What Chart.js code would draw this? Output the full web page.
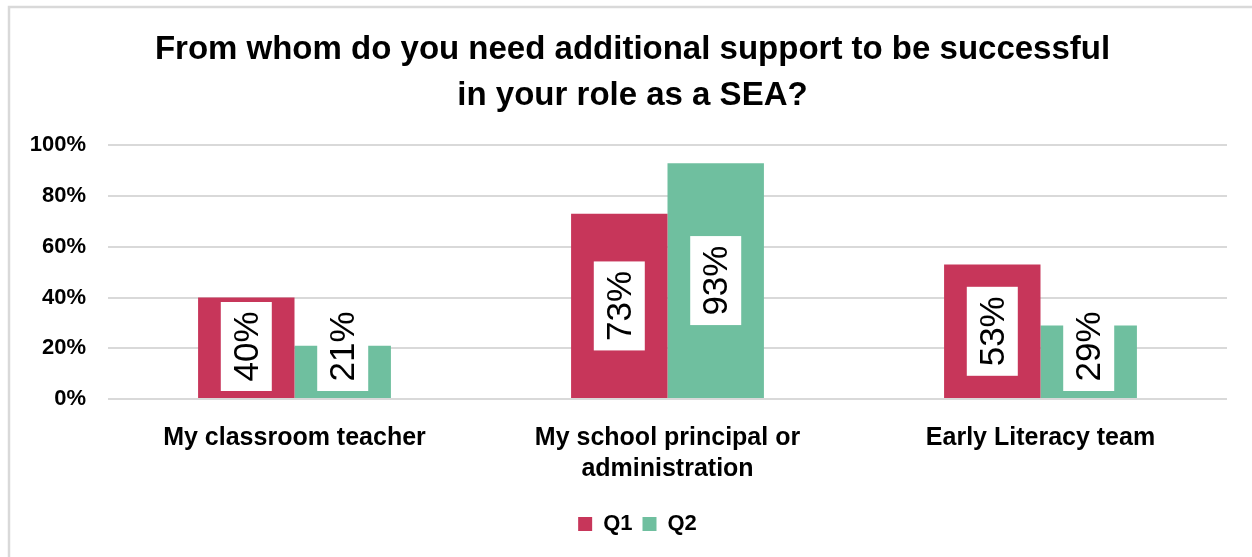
<!DOCTYPE html>
<html>
<head>
<meta charset="utf-8">
<script src="https://cdn.jsdelivr.net/npm/chart.js@4/dist/chart.umd.min.js"></script>
<style>
    html, body { margin: 0; padding: 0; background: #fff; overflow: hidden; }
    #supportChart { display: block; }
</style>
</head>
<body>
<canvas id="supportChart" width="1252" height="557"></canvas>
<script>
// chart data
const categories = [
    "My classroom teacher",
    ["My school principal or", "administration"],
    "Early Literacy team"
];
const q1Values = [40, 73, 53];
const q2Values = [21, 93, 29];
const yTicks = [0, 20, 40, 60, 80, 100];
const seriesNames = ["Q1", "Q2"];
const titleLines = ["From whom do you need additional support to be successful", "in your role as a SEA?"];

const q1Color = "#C7365A";
const q2Color = "#6FBF9F";
const gridColor = "#D9D9D9";
const fontFamily = "'Liberation Sans', Arial, sans-serif";

// white background + grey frame like the exported slide
const framePlugin = {
    id: "frame",
    beforeDraw(chart) {
        const ctx = chart.ctx;
        ctx.save();
        ctx.fillStyle = "#fff";
        ctx.fillRect(0, 0, chart.width, chart.height);
        ctx.strokeStyle = gridColor;
        ctx.lineWidth = 2.5;
        ctx.beginPath();
        ctx.moveTo(9, chart.height);
        ctx.lineTo(9, 7);
        ctx.lineTo(chart.width, 7);
        ctx.stroke();
        ctx.restore();
    }
};

// nudge title and legend a bit right, like the original
const shiftBoxes = {
    id: "shiftBoxes",
    afterLayout(chart) {
        if (chart.titleBlock) { chart.titleBlock.left += 19; chart.titleBlock.right += 19; }
        if (chart.legend) { chart.legend.left += 24; chart.legend.right += 24; }
    }
};

// rotated value labels in white boxes (kept above the axis line)
const valueLabels = {
    id: "valueLabels",
    afterDatasetsDraw(chart) {
        const ctx = chart.ctx;
        const boxW = 51, boxH = 89;
        ctx.save();
        ctx.font = "35px " + fontFamily;
        ctx.textAlign = "center";
        ctx.textBaseline = "middle";
        chart.data.datasets.forEach((ds, di) => {
            chart.getDatasetMeta(di).data.forEach((bar, i) => {
                let cy = (bar.y + bar.base) / 2;
                if (cy + boxH / 2 > bar.base - 7) cy = bar.base - 7 - boxH / 2;
                ctx.fillStyle = "#fff";
                ctx.fillRect(bar.x - boxW / 2, cy - boxH / 2, boxW, boxH);
                ctx.save();
                ctx.translate(bar.x, cy);
                ctx.rotate(-Math.PI / 2);
                ctx.fillStyle = "#000";
                ctx.fillText(ds.data[i] + "%", 0, 2);
                ctx.restore();
            });
        });
        ctx.restore();
    }
};

const chart = new Chart(document.getElementById("supportChart"), {
    type: "bar",
    data: {
        labels: categories,
        datasets: [{
            label: seriesNames[0],
            data: q1Values,
            backgroundColor: q1Color,
            borderWidth: 0
        }, {
            label: seriesNames[1],
            data: q2Values,
            backgroundColor: q2Color,
            borderWidth: 0
        }]
    },
    options: {
        responsive: false,
        animation: false,
        devicePixelRatio: 1,
        categoryPercentage: 0.517,
        barPercentage: 1,
        layout: {
            padding: { top: 7, right: 25, bottom: 12, left: 0 }
        },
        plugins: {
            title: {
                display: true,
                text: titleLines,
                color: "#000",
                font: { family: fontFamily, size: 33, weight: "bold", lineHeight: 1.4 },
                padding: { top: 20, bottom: 26 }
            },
            legend: {
                position: "bottom",
                labels: {
                    color: "#000",
                    font: { family: fontFamily, size: 22, weight: "bold" },
                    boxWidth: 14,
                    boxHeight: 14,
                    padding: 10
                }
            },
            tooltip: { enabled: false }
        },
        scales: {
            x: {
                grid: { display: false },
                border: { display: false },
                ticks: {
                    color: "#000",
                    padding: 15,
                    maxRotation: 0,
                    font: { family: fontFamily, size: 25, weight: "bold", lineHeight: 1.25 }
                },
                afterFit: s => { s.height = 104; }
            },
            y: {
                min: 0,
                max: 100,
                afterBuildTicks: s => { s.ticks = yTicks.map(v => ({ value: v })); },
                grid: { color: gridColor, lineWidth: 2, drawTicks: false },
                border: { display: false },
                ticks: {
                    color: "#000",
                    padding: 22,
                    font: { family: fontFamily, size: 22, weight: "bold" },
                    callback: v => v + "%"
                },
                afterFit: s => { s.width = 108; }
            }
        }
    },
    plugins: [framePlugin, shiftBoxes, valueLabels]
});
</script>
</body>
</html>
